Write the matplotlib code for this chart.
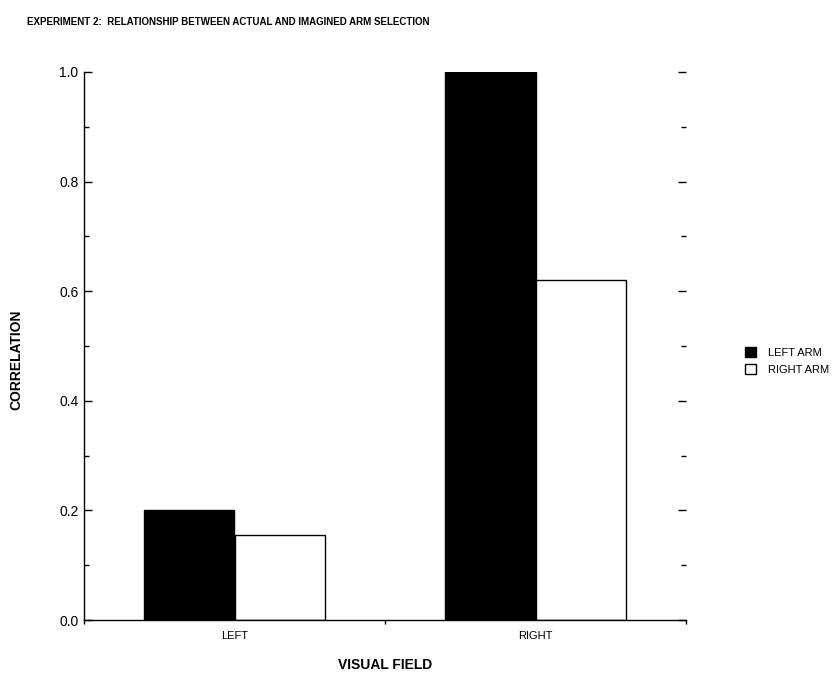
import matplotlib
matplotlib.use("Agg")
import matplotlib.pyplot as plt
from matplotlib.patches import Patch
from matplotlib.ticker import MultipleLocator

plt.rcParams["font.family"] = ["Liberation Sans", "DejaVu Sans"]

# Data
fields = ["LEFT", "RIGHT"]
left_arm = [0.20, 1.00]
right_arm = [0.155, 0.62]
series_names = ["LEFT ARM", "RIGHT ARM"]

fig = plt.figure(figsize=(8.32, 6.73), dpi=100)
ax = fig.add_axes([84 / 832, 53 / 673, 602 / 832, 548 / 673])

centers = [i + 0.5 for i in range(len(fields))]
width = 0.3
ax.bar([c - width / 2 for c in centers], left_arm, width,
       color="black", edgecolor="black", linewidth=1.0)
ax.bar([c + width / 2 for c in centers], right_arm, width,
       color="white", edgecolor="black", linewidth=1.0)

# Axes styling
ax.set_xlim(0, len(fields))
ax.set_ylim(0, 1.0)
for side in ["top", "right"]:
    ax.spines[side].set_visible(False)
for side in ["left", "bottom"]:
    ax.spines[side].set_linewidth(1.0)

ax.yaxis.set_major_locator(MultipleLocator(0.2))
ax.yaxis.set_minor_locator(MultipleLocator(0.1))
ax.set_yticklabels(["{:.1f}".format(v) for v in ax.get_yticks()])
ax.tick_params(axis="y", which="both", direction="in", left=True, right=True,
               labelsize=10, pad=4)
ax.tick_params(axis="y", which="major", length=6, width=1.0)
ax.tick_params(axis="y", which="minor", length=3.5, width=1.0)

ax.set_xticks(range(len(fields) + 1))
ax.set_xticklabels([])
ax.set_xticks(centers, minor=True)
ax.set_xticklabels(fields, minor=True)
ax.tick_params(axis="x", which="major", direction="out", length=3, width=1.0)
ax.tick_params(axis="x", which="minor", length=0, labelsize=8, pad=8)

fig.text(27 / 832, 1 - 22 / 673,
         "EXPERIMENT 2:  RELATIONSHIP BETWEEN ACTUAL AND IMAGINED ARM SELECTION",
         fontsize=7, fontweight="bold", ha="left", va="center")
fig.text(385 / 832, 1 - 665 / 673, "VISUAL FIELD",
         fontsize=10, fontweight="bold", ha="center", va="center")
fig.text(16 / 832, 1 - 360 / 673, "CORRELATION",
         fontsize=10, fontweight="bold", rotation=90, ha="center", va="center")

handles = [Patch(facecolor="black", edgecolor="black"),
           Patch(facecolor="white", edgecolor="black")]
fig.legend(handles, series_names, loc="center left",
           bbox_to_anchor=(745 / 832, 1 - 361 / 673), frameon=False,
           fontsize=8, handlelength=1.0, handleheight=1.0,
           handletextpad=1.1, labelspacing=0.5, borderpad=0,
           borderaxespad=0)

fig.savefig("out.png", dpi=100)
